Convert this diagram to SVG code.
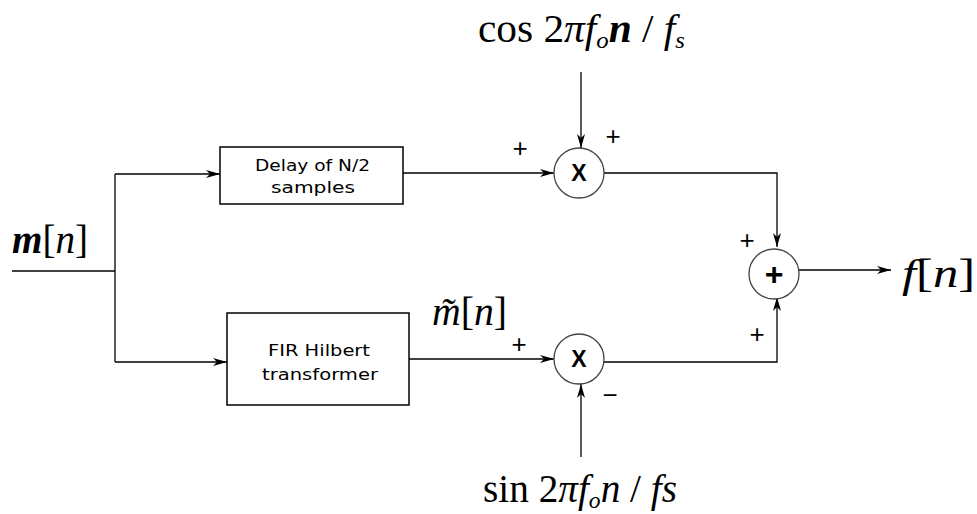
<svg xmlns="http://www.w3.org/2000/svg" width="977" height="514" viewBox="0 0 977 514">
<defs>
<style>
.ln{fill:none;stroke:#000;stroke-width:1.3}
.box{fill:#fff;stroke:#000;stroke-width:1.5}
.cir{fill:#fff;stroke:#444;stroke-width:1.3}
.lbl{font-family:"DejaVu Sans","Liberation Sans",sans-serif;font-size:16px;fill:#000}
.op{font-family:"Liberation Sans",Arial,sans-serif;font-weight:bold;fill:#000;text-anchor:middle}
.sg{font-family:"Liberation Sans",Arial,sans-serif;font-size:26px;fill:#000;text-anchor:middle}
.math{font-family:"Liberation Serif","Times New Roman",serif;font-size:40px;fill:#000}
</style>
<marker id="ah" viewBox="0 0 14 10" refX="14" refY="5" markerWidth="14" markerHeight="10" markerUnits="userSpaceOnUse" orient="auto">
<path d="M0,1 L14,5 L0,9 L4,5 Z" fill="#000"/>
</marker>
</defs>
<rect width="977" height="514" fill="#fff"/>
<g id="connectors">
<path class="ln" d="M12,271 H115"/>
<path class="ln" d="M115,174 V362"/>
<path class="ln" d="M115,174 H220" marker-end="url(#ah)"/>
<path class="ln" d="M115,362 H227" marker-end="url(#ah)"/>
<path class="ln" d="M403,173 H554" marker-end="url(#ah)"/>
<path class="ln" d="M409,359 H554" marker-end="url(#ah)"/>
<path class="ln" d="M581,72 V148" marker-end="url(#ah)"/>
<path class="ln" d="M581,457 V384" marker-end="url(#ah)"/>
<path class="ln" d="M604,173 H777 V247" marker-end="url(#ah)"/>
<path class="ln" d="M604,362 H777 V297" marker-end="url(#ah)"/>
<path class="ln" d="M799,270 H891" marker-end="url(#ah)"/>
</g>
<g id="input-label"><text class="math" x="12" y="253" textLength="76" lengthAdjust="spacingAndGlyphs"><tspan font-style="italic" font-weight="bold">m</tspan>[<tspan font-style="italic">n</tspan>]</text></g>
<g id="delay">
<rect class="box" x="220" y="147" width="183" height="57"/>
<text class="lbl" x="255" y="171" textLength="115" lengthAdjust="spacingAndGlyphs">Delay of N/2</text>
<text class="lbl" x="271" y="193" textLength="84" lengthAdjust="spacingAndGlyphs">samples</text>
</g>
<g id="hilbert">
<rect class="box" x="227" y="313" width="182" height="92"/>
<text class="lbl" x="268" y="356" textLength="102" lengthAdjust="spacingAndGlyphs">FIR Hilbert</text>
<text class="lbl" x="262" y="380" textLength="116" lengthAdjust="spacingAndGlyphs">transformer</text>
</g>
<g id="mult-top">
<circle class="cir" cx="579" cy="173" r="25"/>
<text class="op" x="579" y="181" font-size="23">X</text>
<text class="sg" x="520" y="157">+</text>
<text class="sg" x="613" y="145">+</text>
</g>
<g id="mult-bottom">
<circle class="cir" cx="579" cy="359" r="25"/>
<text class="op" x="579" y="367" font-size="23">X</text>
<text class="sg" x="519" y="353">+</text>
<text class="sg" x="610" y="404">−</text>
</g>
<g id="sum">
<circle class="cir" cx="774" cy="274" r="25"/>
<text class="op" x="774" y="285" font-size="32">+</text>
<text class="sg" x="747" y="249">+</text>
<text class="sg" x="757" y="343">+</text>
</g>
<g id="cos-label"><text class="math" x="478" y="42" textLength="207" lengthAdjust="spacingAndGlyphs">cos 2<tspan font-style="italic">πf</tspan><tspan font-style="italic" font-size="24" dy="6">o</tspan><tspan font-style="italic" font-weight="bold" dy="-6">n</tspan> / <tspan font-style="italic">f</tspan><tspan font-style="italic" font-size="24" dy="6">s</tspan></text></g>
<g id="sin-label"><text class="math" x="483" y="502" textLength="194" lengthAdjust="spacingAndGlyphs">sin 2<tspan font-style="italic">πf</tspan><tspan font-style="italic" font-size="24" dy="6">o</tspan><tspan font-style="italic" dy="-6">n</tspan> / <tspan font-style="italic">fs</tspan></text></g>
<g id="hilbert-label"><text class="math" x="432" y="325" textLength="75" lengthAdjust="spacingAndGlyphs"><tspan font-style="italic">m̃</tspan>[<tspan font-style="italic">n</tspan>]</text></g>
<g id="output-label"><text class="math" x="902" y="287" textLength="73" lengthAdjust="spacingAndGlyphs"><tspan font-style="italic">f</tspan>[<tspan font-style="italic">n</tspan>]</text></g>
</svg>
